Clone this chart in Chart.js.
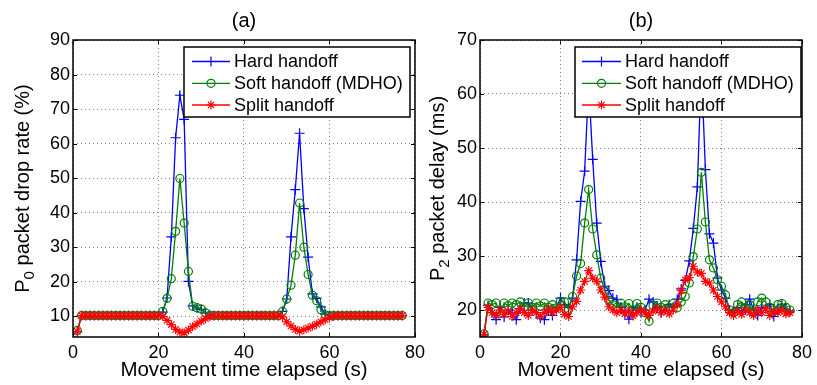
<!DOCTYPE html>
<html>
<head>
<meta charset="utf-8">
<script src="https://cdn.jsdelivr.net/npm/chart.js"></script>
<style>
  html, body { margin: 0; padding: 0; background: #fff; }
  #wrap { position: relative; width: 817px; height: 385px; overflow: hidden; }
  canvas { position: absolute; top: 0; }
  #chartA { left: 0; }
  #chartB { left: 400px; }
</style>
</head>
<body>
<div id="wrap">
  <canvas id="chartA" width="430" height="385"></canvas>
  <canvas id="chartB" width="417" height="385"></canvas>
</div>
<script>
// movement time (s), one sample per second
const timeS = [1,2,3,4,5,6,7,8,9,10,11,12,13,14,15,16,17,18,19,20,
  21,22,23,24,25,26,27,28,29,30,31,32,33,34,35,36,37,38,39,40,
  41,42,43,44,45,46,47,48,49,50,51,52,53,54,55,56,57,58,59,60,
  61,62,63,64,65,66,67,68,69,70,71,72,73,74,75,76,77];

// (a) P0 packet drop rate (%)
const hardA = [5.5,
  10.2,10.2,10.2,10.2,10.2,10.2,10.2,10.2,10.2,10.2,10.2,10.2,10.2,10.2,10.2,10.2,10.2,10.2,10.2,
  11.2,15.3,33.0,61.7,74.0,67.0,20.1,13.0,12.4,12.0,11.0,10.3,
  10.2,10.2,10.2,10.2,10.2,10.2,10.2,10.2,10.2,10.2,10.2,10.2,10.2,10.2,10.2,10.2,
  11.4,15.0,33.0,46.7,63.0,41.2,27.1,16.5,15.2,12.7,10.6,
  10.2,10.2,10.2,10.2,10.2,10.2,10.2,10.2,10.2,10.2,10.2,10.2,10.2,10.2,10.2,10.2,10.2,10.2];
const softA = [5.9,
  10.2,10.2,10.2,10.2,10.2,10.2,10.2,10.2,10.2,10.2,10.2,10.2,10.2,10.2,10.2,10.2,10.2,10.2,10.2,
  11.4,15.2,20.9,34.6,49.9,37.0,23.0,12.9,12.5,12.1,11.0,10.3,
  10.2,10.2,10.2,10.2,10.2,10.2,10.2,10.2,10.2,10.2,10.2,10.2,10.2,10.2,10.2,10.2,
  11.4,15.0,19.0,27.7,42.8,30.0,22.1,16.1,14.5,11.9,10.4,
  10.2,10.2,10.2,10.2,10.2,10.2,10.2,10.2,10.2,10.2,10.2,10.2,10.2,10.2,10.2,10.2,10.2,10.2];
const splitA = [5.6,
  10.2,10.2,10.2,10.2,10.2,10.2,10.2,10.2,10.2,10.2,10.2,10.2,10.2,10.2,10.2,10.2,10.2,10.2,10.2,
  10.0,8.8,7.6,6.2,5.4,5.2,6.0,7.0,7.8,8.6,9.3,9.9,
  10.2,10.2,10.2,10.2,10.2,10.2,10.2,10.2,10.2,10.2,10.2,10.2,10.2,10.2,10.2,10.2,
  9.8,8.4,7.2,6.2,5.7,6.1,6.6,7.1,7.7,8.4,9.0,
  9.6,10.1,10.2,10.2,10.2,10.2,10.2,10.2,10.2,10.2,10.2,10.2,10.2,10.2,10.2,10.2,10.2,10.2];

// (b) P2 packet delay (ms)
const hardB = [15.4,20.9,19.5,18.2,20.5,18.7,20.0,19.5,18.2,20.2,
  21.3,21.3,20.0,19.5,18.5,18.2,20.0,19.0,20.5,22.2,
  21.0,20.5,22.2,29.3,40.1,45.7,62.0,47.9,36.1,29.0,
  24.4,23.6,22.2,21.9,20.5,19.5,18.3,20.0,20.5,19.5,
  20.0,22.0,21.5,20.5,19.5,20.0,21.0,20.5,22.0,23.9,
  25.5,29.1,35.1,42.8,65.0,46.0,34.1,32.4,25.9,23.7,
  22.2,20.0,19.5,20.5,19.5,21.0,22.0,20.0,19.0,20.5,
  20.3,21.0,18.8,20.0,21.0,20.0,19.8];
const softB = [15.6,21.3,21.0,21.3,19.4,21.3,20.8,21.3,21.0,21.5,
  20.6,21.3,20.5,21.3,20.7,21.3,20.5,21.0,20.4,21.6,
  21.5,20.1,22.5,26.3,28.6,36.1,42.3,35.0,30.2,25.9,
  23.7,21.8,21.0,20.5,21.3,20.6,21.2,20.0,21.2,20.5,
  19.5,17.9,20.8,21.3,20.5,21.0,20.5,21.2,20.4,21.5,
  22.5,25.0,29.9,35.0,45.5,36.3,29.3,27.8,25.6,24.4,
  22.8,20.0,19.5,21.0,21.5,20.5,21.0,19.5,21.5,22.2,
  21.5,20.5,20.0,21.0,21.2,20.5,20.0];
const splitB = [15.5,20.5,19.5,19.0,20.0,19.2,19.8,18.8,19.5,20.2,
  19.5,19.0,20.0,19.5,18.8,19.5,20.2,19.5,20.0,20.5,
  19.2,18.8,20.6,21.6,23.7,25.3,27.3,25.9,25.3,23.7,
  22.4,20.6,20.0,19.5,20.0,19.3,19.8,18.9,19.5,20.0,
  19.5,19.0,19.8,20.3,19.5,20.0,19.3,20.0,21.0,23.6,
  25.6,26.0,28.1,27.0,26.8,25.3,25.0,23.7,22.5,21.5,
  20.6,19.5,19.0,19.8,19.2,20.0,19.5,19.0,20.0,19.5,
  20.2,19.0,19.8,19.5,20.0,19.3,19.5];

const seriesNames = ['Hard handoff', 'Soft handoff (MDHO)', 'Split handoff'];
const seriesColors = ['#0000ff', '#008000', '#ff0000'];
const seriesMarkers = ['cross', 'circle', 'star'];
const markerSizes = [5, 4, 4.5];

const FONT = "'Liberation Sans', Arial, Helvetica, sans-serif";

function makeDatasets(lists) {
  return lists.map((vals, i) => ({
    label: seriesNames[i],
    data: timeS.map((t, k) => ({x: t, y: vals[k]})),
    borderColor: seriesColors[i],
    pointBorderColor: seriesColors[i],
    pointBackgroundColor: 'rgba(0,0,0,0)',
    pointStyle: seriesMarkers[i],
    pointRadius: markerSizes[i],
    pointBorderWidth: 1.2,
    borderWidth: 1.3,
    tension: 0,
    order: 2 - i   // split handoff on top, like the matlab plot
  }));
}

// axes box, inward ticks, titles and the boxed legend
function framePlugin(cfg) {
  return {
    id: 'frame',
    afterDraw(chart) {
      const ctx = chart.ctx, a = chart.chartArea;
      const xs = chart.scales.x, ys = chart.scales.y;
      ctx.save();
      ctx.strokeStyle = '#000';
      ctx.lineWidth = 1;
      ctx.beginPath();
      xs.ticks.forEach(t => {
        const p = Math.round(xs.getPixelForValue(t.value)) + 0.5;
        ctx.moveTo(p, a.bottom); ctx.lineTo(p, a.bottom - 4);
        ctx.moveTo(p, a.top); ctx.lineTo(p, a.top + 4);
      });
      ys.ticks.forEach(t => {
        const p = Math.round(ys.getPixelForValue(t.value)) + 0.5;
        ctx.moveTo(a.left, p); ctx.lineTo(a.left + 4, p);
        ctx.moveTo(a.right, p); ctx.lineTo(a.right - 4, p);
      });
      ctx.stroke();
      ctx.lineWidth = 1.5;
      ctx.strokeRect(a.left, a.top, a.right - a.left, a.bottom - a.top);

      // title
      ctx.fillStyle = '#000';
      ctx.font = '20px ' + FONT;
      ctx.textAlign = 'center';
      ctx.textBaseline = 'alphabetic';
      ctx.fillText(cfg.title, (a.left + a.right) / 2, 27);
      // x label
      ctx.font = '20.5px ' + FONT;
      ctx.fillText('Movement time elapsed (s)', (a.left + a.right) / 2, 376);

      // y label with subscript
      ctx.save();
      ctx.translate(cfg.yLabelX, (a.top + a.bottom) / 2);
      ctx.rotate(-Math.PI / 2);
      ctx.textAlign = 'left';
      ctx.font = '20px ' + FONT;
      const w1 = ctx.measureText('P').width;
      const w3 = ctx.measureText(cfg.yRest).width;
      ctx.font = '15px ' + FONT;
      const w2 = ctx.measureText(cfg.ySub).width;
      let x = -(w1 + w2 + w3) / 2;
      ctx.font = '20px ' + FONT;
      ctx.fillText('P', x, 7); x += w1;
      ctx.font = '15px ' + FONT;
      ctx.fillText(cfg.ySub, x, 12); x += w2;
      ctx.font = '20px ' + FONT;
      ctx.fillText(cfg.yRest, x, 7);
      ctx.restore();

      // legend
      const L = cfg.legend;
      ctx.fillStyle = '#fff';
      ctx.fillRect(L.x, L.y, L.w, L.h);
      ctx.lineWidth = 1.5;
      ctx.strokeStyle = '#000';
      ctx.strokeRect(L.x, L.y, L.w, L.h);
      ctx.font = '18px ' + FONT;
      ctx.textAlign = 'left';
      ctx.textBaseline = 'middle';
      chart.data.datasets.forEach((ds, i) => {
        const yy = L.y + L.rows[i];
        ctx.strokeStyle = seriesColors[i];
        ctx.lineWidth = 1.3;
        ctx.beginPath();
        ctx.moveTo(L.x0, yy); ctx.lineTo(L.x1, yy);
        ctx.stroke();
        ctx.fillStyle = 'rgba(0,0,0,0)';
        ctx.strokeStyle = seriesColors[i];
        ctx.lineWidth = 1.2;
        Chart.helpers.drawPoint(ctx, {pointStyle: ds.pointStyle, radius: ds.pointRadius, rotation: 0, borderWidth: 1.2}, (L.x0 + L.x1) / 2, yy);
        ctx.fillStyle = '#000';
        ctx.fillText(ds.label, L.tx, yy + 1);
      });
      ctx.restore();
    }
  };
}

function axisOpts(min, max, step, fitSize, pad) {
  return {
    type: 'linear',
    min: min,
    max: max,
    ticks: {
      stepSize: step,
      includeBounds: false,
      padding: pad,
      color: '#000',
      font: {family: FONT, size: 18}
    },
    grid: {
      drawTicks: false,
      color: 'rgba(0,0,0,0.5)',
      lineWidth: 1
    },
    border: {display: false, dash: [1, 3]},
    afterFit: fitSize
  };
}

function makeChart(id, lists, yMin, yMax, yLeft, padRight, cfg) {
  return new Chart(document.getElementById(id), {
    type: 'line',
    data: {datasets: makeDatasets(lists)},
    options: {
      responsive: false,
      animation: false,
      layout: {padding: {top: 40, right: padRight, bottom: 0, left: 0}},
      plugins: {legend: {display: false}, tooltip: {enabled: false}, title: {display: false}},
      scales: {
        x: axisOpts(0, 80, 20, s => { s.height = 48; }, 5),
        y: axisOpts(yMin, yMax, 10, s => { s.width = yLeft; }, 3)
      }
    },
    plugins: [framePlugin(cfg)]
  });
}

makeChart('chartA', [hardA, softA, splitA], 4, 90, 73, 14, {
  title: '(a)', ySub: '0', yRest: ' packet drop rate (%)', yLabelX: 22,
  legend: {x: 184, y: 47, w: 226, h: 70, rows: [14.5, 36.3, 58], x0: 192, x1: 230, tx: 234}
});

makeChart('chartB', [hardB, softB, splitB], 15, 70, 80, 10, {
  title: '(b)', ySub: '2', yRest: ' packet delay (ms)', yLabelX: 37,
  legend: {x: 175, y: 47, w: 226, h: 70, rows: [14.5, 36.3, 58], x0: 182, x1: 221, tx: 225}
});
</script>
</body>
</html>
